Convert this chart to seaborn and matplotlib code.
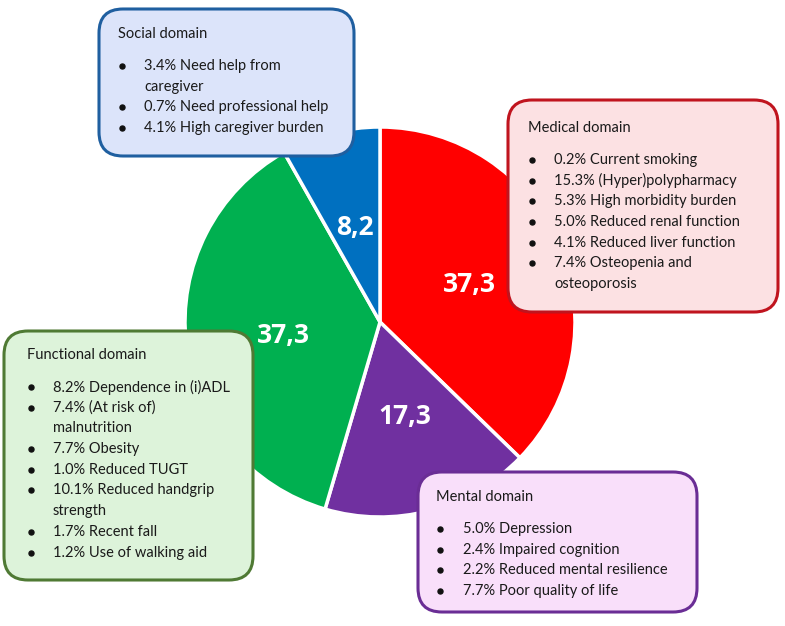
import matplotlib
matplotlib.use("Agg")
import matplotlib.pyplot as plt
from matplotlib.patches import FancyBboxPatch
import seaborn as sns

# pie data (clockwise from 12 o'clock)
domains = ["Medical", "Mental", "Functional", "Social"]
shares = [37.3, 17.3, 37.3, 8.2]
slice_colors = ["#FF0000", "#7030A0", "#00B050", "#0070C0"]

# text boxes
social_items = ["3.4% Need help from\ncaregiver", "0.7% Need professional help",
                "4.1% High caregiver burden"]
medical_items = ["0.2% Current smoking", "15.3% (Hyper)polypharmacy",
                 "5.3% High morbidity burden", "5.0% Reduced renal function",
                 "4.1% Reduced liver function", "7.4% Osteopenia and\nosteoporosis"]
functional_items = ["8.2% Dependence in (i)ADL", "7.4% (At risk of)\nmalnutrition",
                    "7.7% Obesity", "1.0% Reduced TUGT",
                    "10.1% Reduced handgrip\nstrength", "1.7% Recent fall",
                    "1.2% Use of walking aid"]
mental_items = ["5.0% Depression", "2.4% Impaired cognition",
                "2.2% Reduced mental resilience", "7.7% Poor quality of life"]

sns.set_style("white")
plt.rcParams['font.family'] = ['Lato', 'DejaVu Sans']

W, H = 785, 626
fig = plt.figure(figsize=(W / 100, H / 100), dpi=100)
ax = fig.add_axes([0, 0, 1, 1])

def Y(y):
    return H - y

total = sum(shares)
wedges, _, autotexts = ax.pie(
    shares, colors=slice_colors, startangle=90, counterclock=False,
    center=(380, Y(322)), radius=195, pctdistance=0.5,
    autopct=lambda p: f"{p * total / 100:.1f}".replace(".", ","),
    wedgeprops=dict(edgecolor="white", linewidth=2.5),
    textprops=dict(color="white", fontsize=19, fontweight="bold",
                   family=["Open Sans", "DejaVu Sans"]))
# the green label sits a bit higher in the original
autotexts[2].set_position((283, Y(335)))

def box(x0, y0, x1, y1, face, edge, title, items, tx, bx, ty, step=20.7):
    p = FancyBboxPatch((x0, Y(y1)), x1 - x0, y1 - y0,
                       boxstyle="round,pad=0,rounding_size=24",
                       fc=face, ec=edge, lw=2.2, zorder=5)
    ax.add_patch(p)
    ax.text(bx - 3, Y(ty), title, fontsize=10.5, color="#1a1a1a",
            va="center", ha="left", zorder=6)
    y = ty + 32
    for it in items:
        for i, line in enumerate(it.split("\n")):
            if i == 0:
                ax.plot([bx + 1], [Y(y)], marker="o", ms=3.6, color="#111111",
                        zorder=6)
            ax.text(tx, Y(y), line, fontsize=10.5, color="#1a1a1a",
                    va="center", ha="left", zorder=6)
            y += step

box(99, 9, 354, 156, "#DCE4FA", "#1F5FA0", "Social domain", social_items,
    144, 121, 34)
box(508, 100, 778, 312, "#FCE1E3", "#C0141E", "Medical domain", medical_items,
    554, 531, 128)
box(4, 331, 253, 580, "#DDF3DA", "#4F7A34", "Functional domain", functional_items,
    53, 30, 355)
box(418, 472, 697, 612, "#F9DFFA", "#6A2D95", "Mental domain", mental_items,
    463, 439, 497)

ax.set_xlim(0, W)
ax.set_ylim(0, H)
ax.set_aspect("equal")
ax.axis("off")
fig.savefig("out.png", dpi=100, facecolor="white")
